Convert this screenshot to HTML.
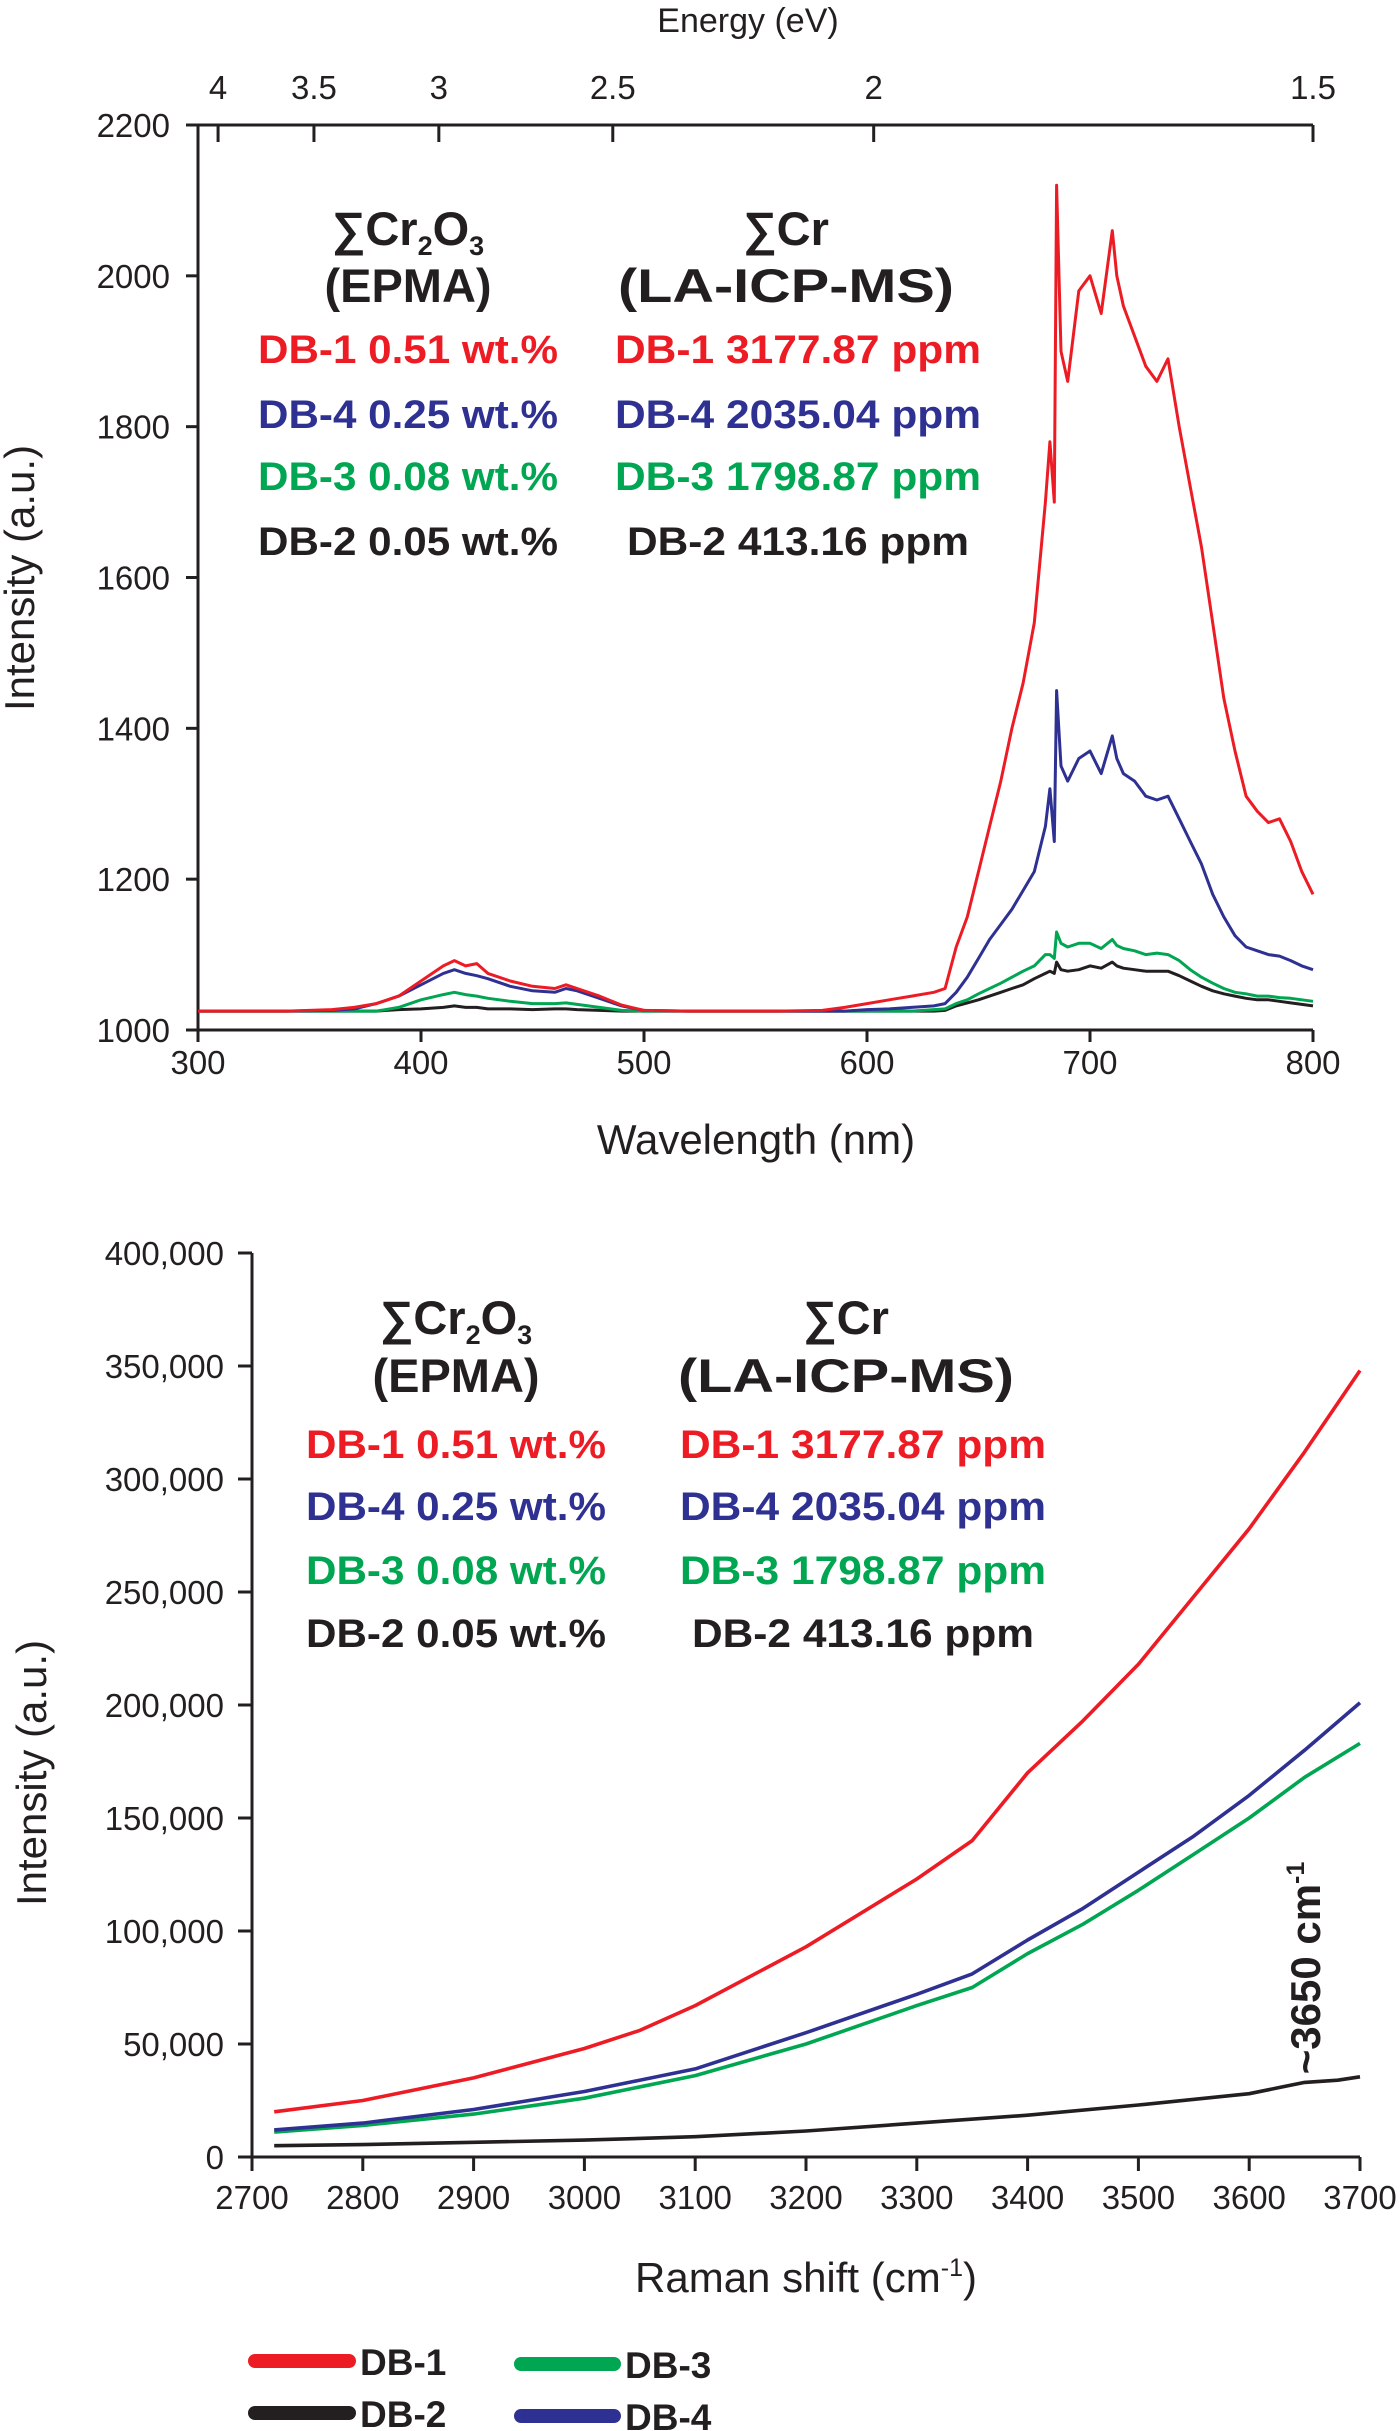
<!DOCTYPE html>
<html><head><meta charset="utf-8"><style>
html,body{margin:0;padding:0;background:#fff}
svg{display:block;font-family:"Liberation Sans",Arial,sans-serif}
.tk{font-size:33px;fill:#231f20}
.ann{font-size:40px;font-weight:bold}
.hd{font-size:47px;font-weight:bold;fill:#231f20}
</style></head><body>
<svg id="fig" width="1400" height="2431" viewBox="0 0 1400 2431">
<g id="top"></g>
<g id="bot"></g>
</svg>
<script>
// ---- Top chart data (wavelength nm vs intensity) ----
const wl = [300,320,340,360,370,380,390,400,410,415,420,425,430,440,450,460,465,470,480,490,500,520,540,560,580,590,600,610,620,630,635,640,645,650,655,660,665,670,675,680,682,684,685,687,690,695,700,705,710,712,715,720,725,730,735,740,745,750,755,760,765,770,775,780,785,790,795,800];
const plDB1 = [1025,1025,1025,1027,1030,1035,1045,1065,1085,1092,1085,1088,1075,1065,1058,1055,1060,1055,1045,1033,1026,1025,1025,1025,1026,1030,1035,1040,1045,1050,1055,1110,1150,1210,1270,1330,1400,1460,1540,1700,1780,1700,2120,1900,1860,1980,2000,1950,2060,2000,1960,1920,1880,1860,1890,1800,1720,1640,1540,1440,1370,1310,1290,1275,1280,1250,1210,1180];
const plDB4 = [1025,1025,1025,1026,1028,1035,1045,1060,1075,1080,1075,1072,1068,1058,1052,1050,1055,1052,1042,1032,1026,1025,1025,1025,1025,1025,1027,1028,1030,1032,1035,1050,1070,1095,1120,1140,1160,1185,1210,1270,1320,1250,1450,1350,1330,1360,1370,1340,1390,1360,1340,1330,1310,1305,1310,1280,1250,1220,1180,1150,1125,1110,1105,1100,1098,1092,1085,1080];
const plDB3 = [1025,1025,1025,1025,1025,1025,1030,1040,1047,1050,1047,1045,1042,1038,1035,1035,1036,1034,1030,1026,1025,1025,1025,1025,1025,1025,1025,1025,1025,1027,1028,1035,1040,1048,1055,1062,1070,1078,1085,1100,1100,1095,1130,1115,1110,1115,1115,1108,1120,1112,1108,1105,1100,1102,1100,1092,1080,1070,1062,1055,1050,1048,1045,1045,1043,1042,1040,1038];
const plDB2 = [1025,1025,1025,1025,1025,1025,1027,1028,1030,1032,1030,1030,1028,1028,1027,1028,1028,1027,1026,1025,1025,1025,1025,1025,1025,1025,1025,1025,1025,1025,1026,1032,1036,1040,1045,1050,1055,1060,1068,1075,1078,1075,1090,1080,1078,1080,1085,1082,1090,1085,1082,1080,1078,1078,1078,1072,1065,1058,1052,1048,1045,1042,1040,1040,1038,1036,1034,1032];
const topXTicks = [300,400,500,600,700,800];
const topYTicks = [1000,1200,1400,1600,1800,2000,2200];
const energyTickNm = [309,352,408,486,603,800];
const energyLabels = ["4","3.5","3","2.5","2","1.5"];

// ---- Bottom chart data (Raman shift vs intensity) ----
const rsRed = [2720,2800,2900,3000,3050,3100,3200,3300,3350,3400,3450,3500,3550,3600,3650,3700];
const ramDB1 = [20000,25000,35000,48000,56000,67000,93000,123000,140000,170000,193000,218000,248000,278000,312000,348000];
const rsMid = [2720,2800,2900,3000,3100,3200,3300,3350,3400,3450,3500,3550,3600,3650,3700];
const ramDB4 = [12000,15000,21000,29000,39000,55000,72000,81000,96000,110000,126000,142000,160000,180000,201000];
const ramDB3 = [11000,14000,19000,26000,36000,50000,67000,75000,90000,103000,118000,134000,150000,168000,183000];
const rsBlk = [2720,2800,2900,3000,3100,3200,3300,3400,3500,3600,3630,3650,3680,3700];
const ramDB2 = [5000,5500,6500,7500,9000,11500,15000,18500,23000,28000,31000,33000,34000,35500];
const botXTicks = [2700,2800,2900,3000,3100,3200,3300,3400,3500,3600,3700];
const botYTicks = [0,50000,100000,150000,200000,250000,300000,350000,400000];

const NS="http://www.w3.org/2000/svg";
const C={r:"#ed1c24",b:"#2e3192",g:"#00a651",k:"#231f20"};
function mk(parent,tag,attrs,text){const e=document.createElementNS(NS,tag);for(const k in attrs)e.setAttribute(k,attrs[k]);if(text!==undefined)e.textContent=text;parent.appendChild(e);return e;}

// ===== Top chart =====
const T=document.getElementById('top');
const tL=198,tR=1313,tT=125,tB=1030;
const tx=v=>tL+(v-300)/500*(tR-tL);
const ty=v=>tB-(v-1000)/1200*(tB-tT);
let e;
e=mk(T,'line',{x1:tL,y1:tT,x2:tL,y2:tB,stroke:C.k,'stroke-width':3});

e=mk(T,'line',{x1:tL-1,y1:tB,x2:tR,y2:tB,stroke:C.k,'stroke-width':3});

e=mk(T,'line',{x1:tL-12,y1:tT,x2:tR,y2:tT,stroke:C.k,'stroke-width':3});

topYTicks.forEach(v=>{
  mk(T,'line',{x1:tL-12,y1:ty(v),x2:tL,y2:ty(v),stroke:C.k,'stroke-width':3});
  e=mk(T,'text',{x:tL-28,y:ty(v)+12,'text-anchor':'end',class:'tk'},String(v));
  
});
topXTicks.forEach(v=>{
  mk(T,'line',{x1:tx(v),y1:tB,x2:tx(v),y2:tB+12,stroke:C.k,'stroke-width':3});
  e=mk(T,'text',{x:tx(v),y:tB+44,'text-anchor':'middle',class:'tk'},String(v));
  
});
energyTickNm.forEach((nm,i)=>{
  const x=tx(nm);
  mk(T,'line',{x1:x,y1:tT,x2:x,y2:tT+17,stroke:C.k,'stroke-width':3});
  e=mk(T,'text',{x:x,y:99,'text-anchor':'middle',class:'tk'},energyLabels[i]);
  
});
e=mk(T,'text',{x:748,y:32,'text-anchor':'middle',style:'font-size:34px',fill:C.k},'Energy (eV)');

e=mk(T,'text',{x:756,y:1154,'text-anchor':'middle',style:'font-size:42px',fill:C.k},'Wavelength (nm)');

e=mk(T,'text',{x:0,y:0,'text-anchor':'middle',style:'font-size:42px',fill:C.k,transform:'translate(34,578) rotate(-90)'},'Intensity (a.u.)');

[[plDB2,C.k,'db-2'],[plDB3,C.g,'db-3'],[plDB4,C.b,'db-4'],[plDB1,C.r,'db-1']].forEach(([s,c,n])=>{
  const d=s.map((v,i)=>(i?'L':'M')+tx(wl[i]).toFixed(1)+' '+ty(v).toFixed(1)).join(' ');
  e=mk(T,'path',{d:d,fill:'none',stroke:c,'stroke-width':3,'stroke-linejoin':'round'});
  
});

// ===== Bottom chart =====
const B=document.getElementById('bot');
const bL=252,bR=1360,bT=1253,bB=2157;
const bx=v=>bL+(v-2700)/1000*(bR-bL);
const by=v=>bB-v/400000*(bB-bT);
e=mk(B,'line',{x1:bL,y1:bT,x2:bL,y2:bB,stroke:C.k,'stroke-width':3});

e=mk(B,'line',{x1:bL-1,y1:bB,x2:bR,y2:bB,stroke:C.k,'stroke-width':3});

botYTicks.forEach(v=>{
  mk(B,'line',{x1:bL-14,y1:by(v),x2:bL,y2:by(v),stroke:C.k,'stroke-width':3});
  e=mk(B,'text',{x:bL-28,y:by(v)+12,'text-anchor':'end',class:'tk'},v.toLocaleString('en-US'));
  
});
botXTicks.forEach(v=>{
  mk(B,'line',{x1:bx(v),y1:bB,x2:bx(v),y2:bB+14,stroke:C.k,'stroke-width':3});
  e=mk(B,'text',{x:bx(v),y:bB+52,'text-anchor':'middle',class:'tk'},String(v));
  
});
e=mk(B,'text',{x:806,y:2292,'text-anchor':'middle',style:'font-size:42px',fill:C.k},'Raman shift (cm');

mk(e,'tspan',{dy:-16,style:'font-size:25px'},'-1');
mk(e,'tspan',{dy:16},')');
e=mk(B,'text',{x:0,y:0,'text-anchor':'middle',style:'font-size:42px',fill:C.k,transform:'translate(46,1773) rotate(-90)'},'Intensity (a.u.)');

[[rsBlk,ramDB2,C.k,'db-2'],[rsMid,ramDB3,C.g,'db-3'],[rsMid,ramDB4,C.b,'db-4'],[rsRed,ramDB1,C.r,'db-1']].forEach(([xs,s,c,n])=>{
  const d=s.map((v,i)=>(i?'L':'M')+bx(xs[i]).toFixed(1)+' '+by(v).toFixed(1)).join(' ');
  e=mk(B,'path',{d:d,fill:'none',stroke:c,'stroke-width':3.6,'stroke-linejoin':'round'});
  
});
e=mk(B,'text',{x:0,y:0,'text-anchor':'middle',style:'font-size:42px;font-weight:bold',fill:C.k,transform:'translate(1320,1968) rotate(-90)'},'~3650 cm');

mk(e,'tspan',{dy:-16,style:'font-size:25px'},'-1');

// ===== Annotation blocks =====
const rows=[["DB-1 0.51 wt.%","DB-1 3177.87 ppm",C.r,'db-1'],["DB-4 0.25 wt.%","DB-4 2035.04 ppm",C.b,'db-4'],["DB-3 0.08 wt.%","DB-3 1798.87 ppm",C.g,'db-3'],["DB-2 0.05 wt.%","DB-2 413.16 ppm",C.k,'db-2']];
function block(g,cx1,cx2,cxh2,yh1,yh2,ys){
  let t=mk(g,'text',{x:cx1,y:yh1,'text-anchor':'middle',class:'hd'},'∑Cr');
  
  mk(t,'tspan',{dy:10,style:'font-size:27px'},'2');mk(t,'tspan',{dy:-10},'O');mk(t,'tspan',{dy:10,style:'font-size:27px'},'3');
  t=mk(g,'text',{x:cx1,y:yh2,'text-anchor':'middle',class:'hd'},'(EPMA)');
  
  t=mk(g,'text',{x:cxh2,y:yh1,'text-anchor':'middle',class:'hd'},'∑Cr');
  
  t=mk(g,'text',{x:cxh2,y:yh2,'text-anchor':'middle',class:'hd',textLength:336,lengthAdjust:'spacingAndGlyphs'},'(LA-ICP-MS)');
  
  rows.forEach((r,i)=>{
    t=mk(g,'text',{x:cx1,y:ys[i],'text-anchor':'middle',class:'ann',fill:r[2],textLength:300,lengthAdjust:'spacingAndGlyphs'},r[0]);
    
    t=mk(g,'text',{x:cx2,y:ys[i],'text-anchor':'middle',class:'ann',fill:r[2],textLength:i==3?342:366,lengthAdjust:'spacingAndGlyphs'},r[1]);
    
  });
}
block(T,408,798,786,245,302,[363,428,490,555]);
block(B,456,863,846,1334,1392,[1458,1520,1584,1647]);

// ===== Legend =====
const L=mk(document.getElementById('fig'),'g',{});

[[C.r,'DB-1',255,349,2361],[C.k,'DB-2',255,349,2413],[C.g,'DB-3',521,614,2364],[C.b,'DB-4',521,614,2416]].forEach(([c,n,x1,x2,y])=>{
  const g=mk(L,'g',{});
  
  mk(g,'line',{x1:x1,y1:y,x2:x2,y2:y,stroke:c,'stroke-width':14,'stroke-linecap':'round'});
  mk(g,'text',{x:x2+11,y:y+14,style:'font-size:37px;font-weight:bold',fill:C.k},n);
});
</script>
</body></html>
